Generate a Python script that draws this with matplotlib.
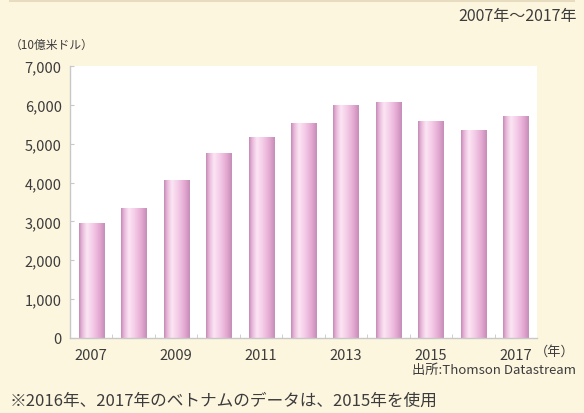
import matplotlib.pyplot as plt
import numpy as np
from matplotlib.colors import LinearSegmentedColormap

plt.rcParams['font.family'] = ['Noto Sans CJK JP', 'DejaVu Sans']

# data (10億米ドル)
years = ['2007', '2008', '2009', '2010', '2011', '2012',
         '2013', '2014', '2015', '2016', '2017']
values = [2950, 3330, 4060, 4740, 5160, 5520, 5990, 6050, 5580, 5350, 5710]
yticks = [0, 1000, 2000, 3000, 4000, 5000, 6000, 7000]

bg = '#fdf6df'
txt = '#3c3c3c'

fig = plt.figure(figsize=(5.84, 4.14), dpi=100, facecolor=bg)
ax = fig.add_axes([70 / 584, 1 - 339 / 414, 467 / 584, 272 / 414])
ax.set_facecolor('white')

x = np.arange(len(years))
bars = ax.bar(x, values, width=0.59, color='none', zorder=2)

# cylinder-like shading across each bar
grad = LinearSegmentedColormap.from_list('pinkbar', [
    (0.0, '#c48ab5'), (0.1, '#e6b2d7'), (0.3, '#fce6f4'),
    (0.5, '#f6d0ea'), (0.8, '#e4a9d2'), (1.0, '#c58db8')])
row = np.linspace(0, 1, 64).reshape(1, -1)
for b in bars:
    x0, w, h = b.get_x(), b.get_width(), b.get_height()
    ax.imshow(row, cmap=grad, aspect='auto', extent=(x0, x0 + w, 0, h),
              zorder=2, interpolation='bicubic')

ax.set_xlim(-0.5, len(years) - 0.5)
ax.set_ylim(0, 7000)

ax.set_yticks(yticks)
ax.set_yticklabels([f'{v:,}' for v in yticks])
ax.set_xticks(x[::2])
ax.set_xticklabels(years[::2])
ax.set_xticks(x[:-1] + 0.5, minor=True)
ax.tick_params(axis='y', direction='in', length=3, color='#c8c8c8',
               labelsize=10.5, labelcolor=txt, pad=6)
ax.tick_params(axis='x', which='major', length=0, labelsize=10.5,
               labelcolor=txt, pad=7)
ax.tick_params(axis='x', which='minor', direction='in', length=3,
               color='#c8c8c8')

for s in ['top', 'right']:
    ax.spines[s].set_visible(False)
for s in ['left', 'bottom']:
    ax.spines[s].set_color('#c8c8c8')
    ax.spines[s].set_linewidth(1.0)

# texts around the chart
fig.text(577 / 584, 1 - 16 / 414, '2007年～2017年', ha='right', va='center',
         fontsize=11.5, color=txt)
fig.text(10 / 584, 1 - 45 / 414, '（10億米ドル）', ha='left', va='center',
         fontsize=8.5, color=txt)
fig.text(575 / 584, 1 - 352 / 414, '（年）', ha='right', va='center',
         fontsize=9.5, color=txt)
fig.text(576 / 584, 1 - 371 / 414, '出所:Thomson Datastream', ha='right',
         va='center', fontsize=9.5, color=txt)
fig.text(10 / 584, 1 - 401 / 414, '※2016年、2017年のベトナムのデータは、2015年を使用',
         ha='left', va='center', fontsize=12, color=txt)

# thin rule along the top edge
fig.add_artist(plt.Line2D([10 / 584, 574 / 584], [1 - 1.5 / 414, 1 - 1.5 / 414],
                          color='#e8dcc0', linewidth=1.5))

fig.savefig('out.png', dpi=100, facecolor=bg)
